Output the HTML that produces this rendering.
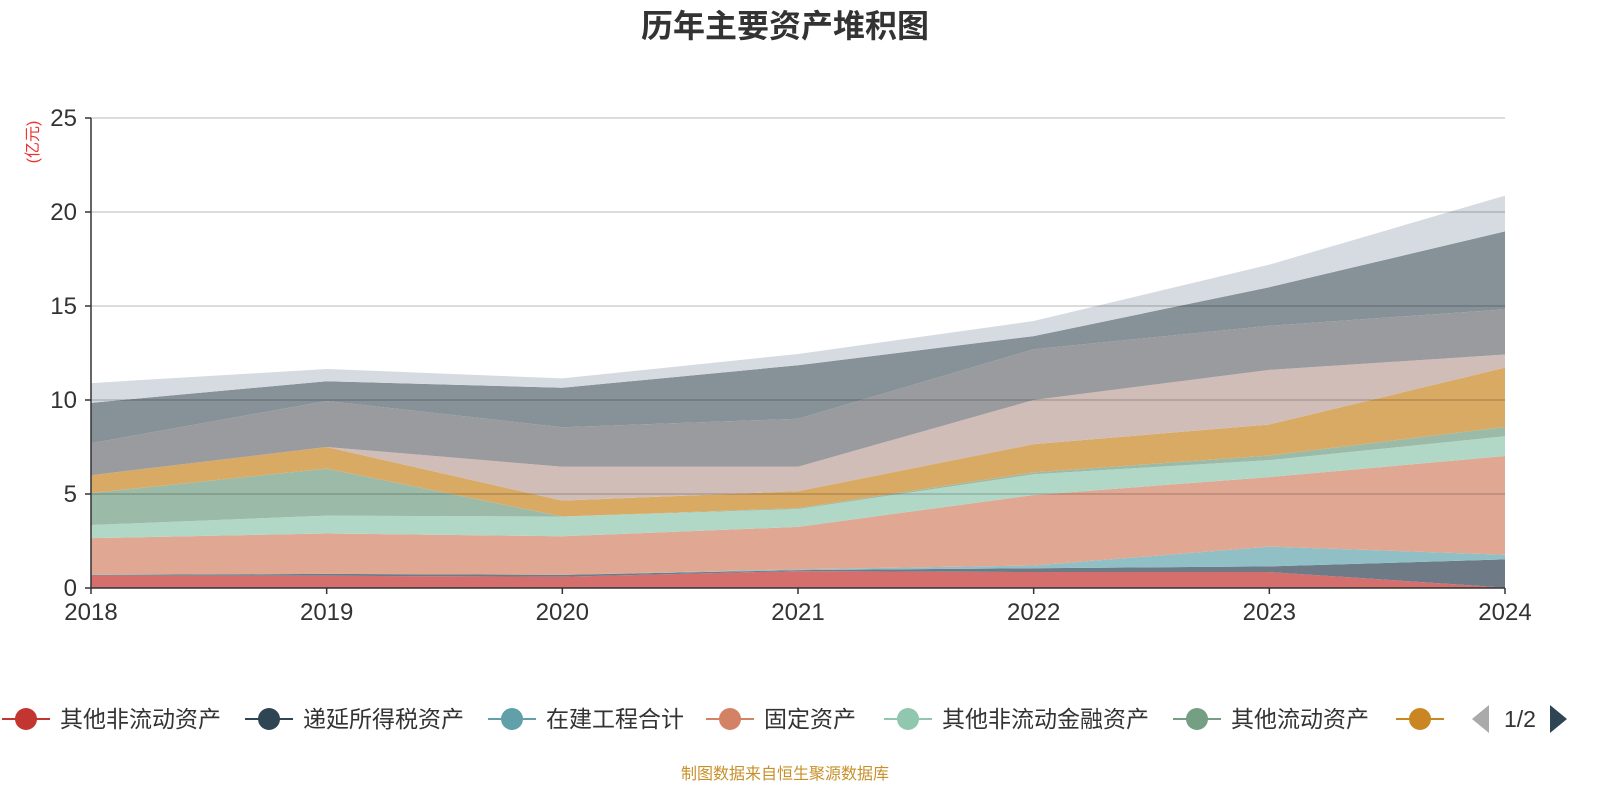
<!DOCTYPE html>
<html><head><meta charset="utf-8"><style>
body{margin:0;background:#fff;}
svg{display:block;font-family:"Liberation Sans","Noto Sans CJK SC",sans-serif;}
</style></head><body>
<svg id="c" width="1600" height="800">
<text x="785" y="37" text-anchor="middle" font-size="32" font-weight="bold" fill="#333">历年主要资产堆积图</text>
<text transform="translate(38,142) rotate(-90)" text-anchor="middle" font-size="16" fill="#e33">(亿元)</text>
<g id="areas"></g><g id="grid"></g><g id="axes"></g><g id="legend"></g>
<text x="785" y="779" text-anchor="middle" font-size="16" fill="#c8902a">制图数据来自恒生聚源数据库</text>
</svg>
<script>
const years=["2018","2019","2020","2021","2022","2023","2024"];
const yTicks=[0,5,10,15,20,25];
const sOtherNonCurrent=[0.65,0.65,0.6,0.9,0.85,0.85,0.02];
const sDeferredTax=[0.05,0.1,0.1,0.05,0.2,0.3,1.5];
const sConstruction=[0,0,0,0.05,0.15,1.05,0.25];
const sFixed=[1.95,2.15,2.05,2.25,3.75,3.7,5.25];
const sOtherFinancial=[0.7,0.95,1.05,0.95,1.1,0.9,1.05];
const sOtherCurrent=[1.7,2.5,0,0.05,0.1,0.25,0.5];
const sOrange=[0.95,1.15,0.85,0.9,1.5,1.65,3.15];
const sBeige=[0,0,1.8,1.3,2.35,2.9,0.7];
const sGray=[1.7,2.45,2.1,2.55,2.7,2.35,2.4];
const sSlate=[2.15,1.05,2.1,2.85,0.7,2.05,4.15];
const sLight=[1.05,0.65,0.5,0.6,0.8,1.2,1.9];
const seriesNames=["其他非流动资产","递延所得税资产","在建工程合计","固定资产","其他非流动金融资产","其他流动资产",""];
const series=[sOtherNonCurrent,sDeferredTax,sConstruction,sFixed,sOtherFinancial,sOtherCurrent,sOrange,sBeige,sGray,sSlate,sLight];
const fills=["#d46f6d","#6e7b86","#91bfc6","#e0a793","#b1d8c7","#9cbaa8","#d9aa63","#d1bdb7","#9a9b9f","#869198","#d6dbe1"];
const legendColors=["#c23531","#2f4554","#61a0a8","#d48265","#91c7ae","#749f83","#ca8622"];
const NS="http://www.w3.org/2000/svg";
const X0=91,X1=1505,Y0=588,Y1=118,VMAX=25;
const xs=i=>X0+(X1-X0)*i/(years.length-1);
const ys=v=>Y0-(Y0-Y1)*v/VMAX;
function mk(t,a,p){const e=document.createElementNS(NS,t);for(const k in a)e.setAttribute(k,a[k]);p.appendChild(e);return e;}
const areas=document.getElementById('areas');
let base=years.map(()=>0);
series.forEach((s,k)=>{
  const top=base.map((b,i)=>b+s[i]);
  let d="M"+top.map((v,i)=>xs(i)+","+ys(v)).join(" L");
  for(let i=years.length-1;i>=0;i--)d+=" L"+xs(i)+","+ys(base[i]);
  const p=mk('path',{d:d+"Z",fill:fills[k]},areas);
  
  
  base=top;
});
const grid=document.getElementById('grid'),axes=document.getElementById('axes');
yTicks.forEach(v=>{
  if(v>0){const l=mk('line',{x1:X0,x2:X1,y1:ys(v),y2:ys(v),stroke:"rgba(0,0,0,0.18)","stroke-width":1.5},grid);
  
  }
  const t=mk('line',{x1:X0-6,x2:X0,y1:ys(v),y2:ys(v),stroke:"#333","stroke-width":1.5},axes);
  
  
  const tx=mk('text',{x:X0-14,y:ys(v)+8,"text-anchor":"end","font-size":24,fill:"#333"},axes);
  tx.textContent=v;
  
  
});
const ya=mk('line',{x1:X0,x2:X0,y1:Y1,y2:Y0,stroke:"#333","stroke-width":1.5},axes);


const xa=mk('line',{x1:X0,x2:X1,y1:Y0,y2:Y0,stroke:"#333","stroke-width":1.5},axes);


years.forEach((y,i)=>{
  const t=mk('line',{x1:xs(i),x2:xs(i),y1:Y0,y2:Y0+6,stroke:"#333","stroke-width":1.5},axes);
  
  
  const tx=mk('text',{x:xs(i),y:620,"text-anchor":"middle","font-size":24,fill:"#333"},axes);
  tx.textContent=y;
  
  
});
const lg=document.getElementById('legend');
const lx=[26,269,512,730,908,1197,1420];
seriesNames.forEach((n,i)=>{
  const g=mk('g',{},lg);
  
  
  mk('line',{x1:lx[i]-24,x2:lx[i]+24,y1:719,y2:719,stroke:legendColors[i],"stroke-width":2},g);
  mk('circle',{cx:lx[i],cy:719,r:11,fill:legendColors[i]},g);
  const t=mk('text',{x:lx[i]+34,y:727,"font-size":23,fill:"#333"},g);
  t.textContent=n;
});
const pl=mk('path',{d:"M1472,719 L1489,705 L1489,733Z",fill:"#aaa"},lg);


const pt=mk('text',{x:1520,y:727,"text-anchor":"middle","font-size":23,fill:"#333"},lg);
pt.textContent="1/2";


const pn=mk('path',{d:"M1567,719 L1550,705 L1550,733Z",fill:"#2f4554"},lg);


</script>
</body></html>
